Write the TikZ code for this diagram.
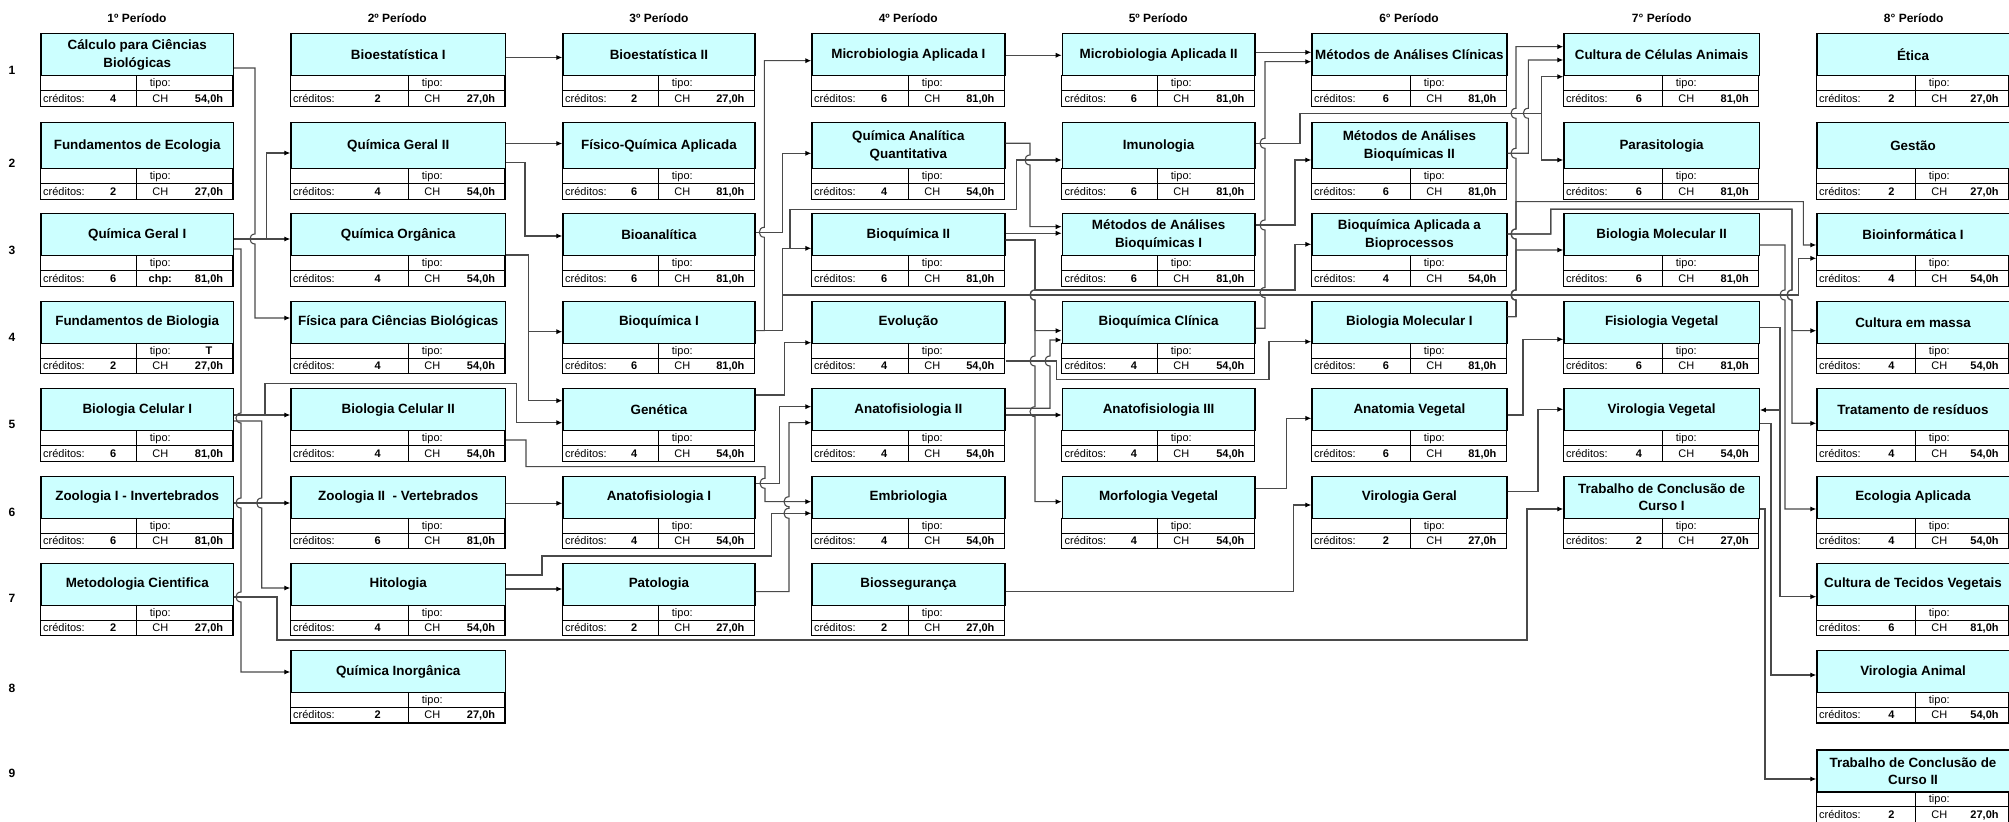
\documentclass[tikz,border=0pt]{standalone}
\usepackage{fontspec}
\setmainfont{Liberation Sans}
\usetikzlibrary{arrows.meta}
\definecolor{cyanbg}{HTML}{CCFFFF}
\definecolor{lgray}{HTML}{4A4A4A}
\newcommand\ttlfont{\bfseries\fontsize{6.7}{8.6}\selectfont}
\newcommand\smfont{\fontsize{5.5}{6}\selectfont}
\newcommand\smbold{\bfseries\fontsize{5.5}{6}\selectfont}
\newcommand\hdrfont{\bfseries\fontsize{6}{7}\selectfont}
\newcommand\setcol[1]{\ifcase#1\relax\or
 \def\cL{40.3}\def\cD{136.3}\def\cR{233}\def\cV{113.3}\or
 \def\cL{290.3}\def\cD{408.3}\def\cR{505}\def\cV{377.7}\or
 \def\cL{562.3}\def\cD{658.3}\def\cR{754.3}\def\cV{634.3}\or
 \def\cL{811.3}\def\cD{908.3}\def\cR{1004.3}\def\cV{884.3}\or
 \def\cL{1061.7}\def\cD{1157.3}\def\cR{1254.3}\def\cV{1134}\or
 \def\cL{1311.3}\def\cD{1410.3}\def\cR{1506.3}\def\cV{1386}\or
 \def\cL{1563.3}\def\cD{1662.3}\def\cR{1758.7}\def\cV{1639}\or
 \def\cL{1816.3}\def\cD{1915.3}\def\cR{2008.5}\def\cV{1891.3}\fi}
% #1 name #2 col #3 top #4 title height #5 title #6 credits #7 hours #8 CH label #9 tipo value
\newcommand\course[9]{%
 \setcol{#2}%
 \pgfmathsetmacro\cW{(\cR-\cL)*0.5}%
 \pgfmathsetmacro\cH{#4*0.5}%
 \pgfmathsetmacro\cA{#3+#4}%
 \pgfmathsetmacro\cB{\cA+15.5}%
 \pgfmathsetmacro\cC{\cB+15.5}%
 \node[tbox, minimum width=\cW pt, minimum height=\cH pt, anchor=north west] (#1) at (\cL,#3) {#5};
 \draw[iline] (\cL,\cB) -- (\cR,\cB) (\cD,\cA) -- (\cD,\cC);
 \draw[tline] (\cL,\cA) -- (\cL,\cC) -- (\cR,\cC) -- (\cR,\cA);
 \node[sm] (#1t) at (\cD+24,\cA+11.5) {tipo:};
 \node[sm,font=\smbold] (#1x) at (\cR-24,\cA+11.5) {#9};
 \node[sm,anchor=base west] (#1c) at (\cL+2.5,\cB+11.5) {créditos:};
 \node[sm,font=\smbold] (#1v) at (\cV,\cB+11.5) {#6};
 \node[sm] (#1k) at (\cD+24,\cB+11.5) {#8};
 \node[sm,font=\smbold,anchor=base east] (#1h) at (\cR-9.5,\cB+11.5) {#7};
}
\tikzset{
 tbox/.style={draw=black, line width=0.6pt, fill=cyanbg, inner sep=0pt, align=center, font=\ttlfont},
 tline/.style={draw=black, line width=0.6pt},
 iline/.style={draw=black, line width=0.5pt},
 sm/.style={inner sep=0pt, anchor=base, font=\smfont},
 hdr/.style={inner sep=0pt, font=\hdrfont},
 conn/.style={draw=lgray, line width=0.55pt, -{Latex[length=3pt,width=2.6pt,color=black]}},
 hopd/.style 2 args={insert path={-- (#1,#2-5) .. controls (#1-6.7,#2-5) and (#1-6.7,#2+5) .. (#1,#2+5)}},
 hopu/.style 2 args={insert path={-- (#1,#2+5) .. controls (#1-6.7,#2+5) and (#1-6.7,#2-5) .. (#1,#2-5)}},
}
\begin{document}
\begin{tikzpicture}[x=0.5pt,y=-0.5pt]
\useasboundingbox (0,0) rectangle (2009,822);
% headers
\node[hdr] (h1) at (137,18.3) {1º Período};
\node[hdr] (h2) at (397.3,18.3) {2º Período};
\node[hdr] (h3) at (659,18.3) {3º Período};
\node[hdr] (h4) at (908.3,18.3) {4º Período};
\node[hdr] (h5) at (1158.3,18.3) {5º Período};
\node[hdr] (h6) at (1409,18.3) {6° Período};
\node[hdr] (h7) at (1661.7,18.3) {7° Período};
\node[hdr] (h8) at (1913.7,18.3) {8° Período};
% row numbers
\node[hdr] (r1) at (12,70) {1};
\node[hdr] (r2) at (12,163) {2};
\node[hdr] (r3) at (12,250) {3};
\node[hdr] (r4) at (12,337) {4};
\node[hdr] (r5) at (12,424) {5};
\node[hdr] (r6) at (12,512) {6};
\node[hdr] (r7) at (12,598) {7};
\node[hdr] (r8) at (12,688) {8};
\node[hdr] (r9) at (12,773) {9};
% column 1
\course{n11}{1}{33.3}{42}{Cálculo para Ciências\\Biológicas}{4}{54,0h}{CH}{}
\course{n12}{1}{122.3}{46}{Fundamentos de Ecologia}{2}{27,0h}{CH}{}
\course{n13}{1}{213.3}{42}{Química Geral I}{6}{81,0h}{\textbf{chp:}}{}
\course{n14}{1}{300.7}{42}{Fundamentos de Biologia}{2}{27,0h}{CH}{T}
\course{n15}{1}{388.3}{42}{Biologia Celular I}{6}{81,0h}{CH}{}
\course{n16}{1}{475.7}{42}{Zoologia I - Invertebrados}{6}{81,0h}{CH}{}
\course{n17}{1}{562.7}{42}{Metodologia Cientifica}{2}{27,0h}{CH}{}
% column 2
\course{n21}{2}{33.3}{42}{Bioestatística I}{2}{27,0h}{CH}{}
\course{n22}{2}{122.3}{46}{Química Geral II}{4}{54,0h}{CH}{}
\course{n23}{2}{213.3}{42}{Química Orgânica}{4}{54,0h}{CH}{}
\course{n24}{2}{300.7}{42}{Física para Ciências Biológicas}{4}{54,0h}{CH}{}
\course{n25}{2}{388.3}{42}{Biologia Celular II}{4}{54,0h}{CH}{}
\course{n26}{2}{475.7}{42}{Zoologia II~ - Vertebrados}{6}{81,0h}{CH}{}
\course{n27}{2}{562.7}{42}{Hitologia}{4}{54,0h}{CH}{}
\course{n28}{2}{650}{42}{Química Inorgânica}{2}{27,0h}{CH}{}
% column 3
\course{n31}{3}{33.3}{42}{Bioestatística II}{2}{27,0h}{CH}{}
\course{n32}{3}{122.3}{46}{Físico-Química Aplicada}{6}{81,0h}{CH}{}
\course{n33}{3}{213.3}{42}{Bioanalítica}{6}{81,0h}{CH}{}
\course{n34}{3}{300.7}{42}{Bioquímica I}{6}{81,0h}{CH}{}
\course{n35}{3}{388.3}{42}{Genética}{4}{54,0h}{CH}{}
\course{n36}{3}{475.7}{42}{Anatofisiologia I}{4}{54,0h}{CH}{}
\course{n37}{3}{562.7}{42}{Patologia}{2}{27,0h}{CH}{}
% column 4
\course{n41}{4}{33.3}{42}{Microbiologia Aplicada I}{6}{81,0h}{CH}{}
\course{n42}{4}{122.3}{46}{Química Analítica\\Quantitativa}{4}{54,0h}{CH}{}
\course{n43}{4}{213.3}{42}{Bioquímica II}{6}{81,0h}{CH}{}
\course{n44}{4}{300.7}{42}{Evolução}{4}{54,0h}{CH}{}
\course{n45}{4}{388.3}{42}{Anatofisiologia II}{4}{54,0h}{CH}{}
\course{n46}{4}{475.7}{42}{Embriologia}{4}{54,0h}{CH}{}
\course{n47}{4}{562.7}{42}{Biossegurança}{2}{27,0h}{CH}{}
% column 5
\course{n51}{5}{33.3}{42}{Microbiologia Aplicada II}{6}{81,0h}{CH}{}
\course{n52}{5}{122.3}{46}{Imunologia}{6}{81,0h}{CH}{}
\course{n53}{5}{213.3}{42}{Métodos de Análises\\Bioquímicas I}{6}{81,0h}{CH}{}
\course{n54}{5}{300.7}{42}{Bioquímica Clínica}{4}{54,0h}{CH}{}
\course{n55}{5}{388.3}{42}{Anatofisiologia III}{4}{54,0h}{CH}{}
\course{n56}{5}{475.7}{42}{Morfologia Vegetal}{4}{54,0h}{CH}{}
% column 6
\course{n61}{6}{33.3}{42}{Métodos de Análises Clínicas}{6}{81,0h}{CH}{}
\course{n62}{6}{122.3}{46}{Métodos de Análises\\Bioquímicas II}{6}{81,0h}{CH}{}
\course{n63}{6}{213.3}{42}{Bioquímica Aplicada a\\Bioprocessos}{4}{54,0h}{CH}{}
\course{n64}{6}{300.7}{42}{Biologia Molecular I}{6}{81,0h}{CH}{}
\course{n65}{6}{388.3}{42}{Anatomia Vegetal}{6}{81,0h}{CH}{}
\course{n66}{6}{475.7}{42}{Virologia Geral}{2}{27,0h}{CH}{}
% column 7
\course{n71}{7}{33.3}{42}{Cultura de Células Animais}{6}{81,0h}{CH}{}
\course{n72}{7}{122.3}{46}{Parasitologia}{6}{81,0h}{CH}{}
\course{n73}{7}{213.3}{42}{Biologia Molecular II}{6}{81,0h}{CH}{}
\course{n74}{7}{300.7}{42}{Fisiologia Vegetal}{6}{81,0h}{CH}{}
\course{n75}{7}{388.3}{42}{Virologia Vegetal}{4}{54,0h}{CH}{}
\course{n76}{7}{475.7}{42}{Trabalho de Conclusão de\\Curso I}{2}{27,0h}{CH}{}
% column 8
\course{n81}{8}{33.3}{42}{Ética}{2}{27,0h}{CH}{}
\course{n82}{8}{122.3}{46}{Gestão}{2}{27,0h}{CH}{}
\course{n83}{8}{213.3}{42}{Bioinformática I}{4}{54,0h}{CH}{}
\course{n84}{8}{300.7}{42}{Cultura em massa}{4}{54,0h}{CH}{}
\course{n85}{8}{388.3}{42}{Tratamento de resíduos}{4}{54,0h}{CH}{}
\course{n86}{8}{475.7}{42}{Ecologia Aplicada}{4}{54,0h}{CH}{}
\course{n87}{8}{562.7}{42}{Cultura de Tecidos Vegetais}{6}{81,0h}{CH}{}
\course{n88}{8}{650}{42}{Virologia Animal}{4}{54,0h}{CH}{}
\course{n89}{8}{749.5}{42}{Trabalho de Conclusão de\\Curso II}{2}{27,0h}{CH}{}
% connectors: col1 -> col2
\draw[conn] (n11.east|-0,68) -- (255,68) [hopd={255}{239}] -- (255,318) -- (n24.west|-0,318);
\draw[conn] (n13.east|-0,239) -- (266.7,239) -- (266.7,153) -- (n22.west|-0,153);
\draw[conn] (n13.east|-0,239) -- (n23.west|-0,239);
\draw[conn] (n13.east|-0,249) -- (241,249) [hopd={241}{418}] [hopd={241}{503}] [hopd={241}{597}] -- (241,672) -- (n28.west|-0,672);
\draw[conn] (n15.east|-0,415) -- (n25.west|-0,415);
\draw[conn] (n15.east|-0,415) -- (265,415) -- (265,383.3) -- (516.7,383.3) -- (516.7,422.7) -- (n35.west|-0,422.7);
\draw[conn] (n15.east|-0,421) -- (261.7,421) [hopd={261.7}{503}] -- (261.7,588) -- (n27.west|-0,588);
\draw[conn] (n16.east|-0,503) -- (n26.west|-0,503);
\draw[conn] (n17.east|-0,597) -- (277,597) -- (277,640) -- (1527,640) -- (1527,509) -- (n76.west|-0,509);
% col2 -> col3
\draw[conn] (n21.east|-0,57.5) -- (n31.west|-0,57.5);
\draw[conn] (n22.east|-0,143.5) -- (n32.west|-0,143.5);
\draw[conn] (n22.east|-0,162.7) -- (525,162.7) -- (525,236) -- (n33.west|-0,236);
\draw[conn] (n23.east|-0,255) -- (528.3,255) -- (528.3,331.7) -- (n34.west|-0,331.7);
\draw[conn] (n23.east|-0,255) -- (528.3,255) -- (528.3,400.7) -- (n35.west|-0,400.7);
\draw[conn] (n25.east|-0,440) -- (526,440) -- (526,466.7) -- (765,466.7) [hopd={765}{483.3}] -- (765,501.7) -- (n46.west|-0,501.7);
\draw[conn] (n26.east|-0,503.3) -- (n36.west|-0,503.3);
\draw[conn] (n27.east|-0,589) -- (n37.west|-0,589);
\draw[conn] (n27.east|-0,575) -- (542,575) -- (542,556) -- (771.7,556) -- (771.7,513.3) -- (n46.west|-0,513.3);
% col3 -> col4
\draw[conn] (n37.east|-0,591.7) -- (789,591.7) [hopu={789}{513.3}] [hopu={789}{501.7}] -- (789,422.7) -- (n45.west|-0,422.7);
\draw[conn] (n36.east|-0,483.3) -- (779.3,483.3) -- (779.3,406.7) -- (n45.west|-0,406.7);
\draw[conn] (n35.east|-0,395) -- (784.3,395) -- (784.3,342.7) -- (n44.west|-0,342.7);
\draw[conn] (n34.east|-0,330.7) -- (764.3,330.7) [hopu={764.3}{232.3}] -- (764.3,60.7) -- (n41.west|-0,60.7);
\draw[conn] (n33.east|-0,232.3) -- (782.7,232.3) -- (782.7,153.3) -- (n42.west|-0,153.3);
\draw[conn] (n34.east|-0,330.7) -- (782.7,330.7) -- (782.7,248.3) -- (n43.west|-0,248.3);
\draw[conn] (n34.east|-0,330.7) -- (782.7,330.7) -- (782.7,248.3) -- (790,248.3) -- (790,209.3) -- (1016.7,209.3) -- (1016.7,160) -- (n52.west|-0,160);
\draw[conn] (n34.east|-0,330.7) -- (782.7,330.7) -- (782.7,295) -- (1798.3,295) -- (1798.3,258.3) -- (n83.west|-0,258.3);
% col4 -> col5
\draw[conn] (n41.east|-0,55.3) -- (n51.west|-0,55.3);
\draw[conn] (n42.east|-0,143.3) -- (1030,143.3) [hopd={1030}{160}] -- (1030,226.7) -- (n53.west|-0,226.7);
\draw[conn] (n43.east|-0,233.3) -- (n53.west|-0,233.3);
\draw[conn] (n43.east|-0,240) -- (1035,240) -- (1035,290) -- (1295,290) -- (1295,244.3) -- (n63.west|-0,244.3);
\draw[conn] (n43.east|-0,240) -- (1035,240) -- (1035,290) [hopd={1035}{295}] -- (1035,330.7) -- (n54.west|-0,330.7);
\draw[conn] (n43.east|-0,240) -- (1035,240) -- (1035,290) [hopd={1035}{295}] [hopd={1035}{361}] [hopd={1035}{411.7}] -- (1035,501.7) -- (n56.west|-0,501.7);
\draw[conn] (n44.east|-0,361) -- (1056.7,361) -- (1056.7,379.3) -- (1269,379.3) -- (1269,341.7) -- (n64.west|-0,341.7);
\draw[conn] (n45.east|-0,408.3) -- (1050,408.3) [hopu={1050}{361}] -- (1050,340) -- (n54.west|-0,340);
\draw[conn] (n45.east|-0,415) -- (n55.west|-0,415);
\draw[conn] (n47.east|-0,591.7) -- (1293.8,591.7) -- (1293.8,505) -- (n66.west|-0,505);
% col5 -> col6
\draw[conn] (n51.east|-0,52.3) -- (n61.west|-0,52.3);
\draw[conn] (n54.east|-0,328.3) -- (1265,328.3) [hopu={1265}{292.5}] [hopu={1265}{225}] [hopu={1265}{143.3}] -- (1265,61.7) -- (n61.west|-0,61.7);
\draw[conn] (n53.east|-0,225) -- (1295,225) -- (1295,160) -- (n62.west|-0,160);
\draw[conn] (n56.east|-0,488.3) -- (1286.7,488.3) -- (1286.7,418.3) -- (n65.west|-0,418.3);
% col5/6 -> col7
\draw[conn] (n52.east|-0,143.3) -- (1300,143.3) -- (1300,113.3) -- (1541.7,113.3) -- (1541.7,76.7) -- (n71.west|-0,76.7);
\draw[conn] (n52.east|-0,143.3) -- (1300,143.3) -- (1300,113.3) -- (1541.7,113.3) -- (1541.7,160) -- (n72.west|-0,160);
\draw[conn] (n62.east|-0,153.3) -- (1528.3,153.3) [hopu={1528.3}{113.3}] -- (1528.3,60) -- (n71.west|-0,60);
\draw[conn] (n64.east|-0,316.7) -- (1516,316.7) [hopu={1516}{295}] [hopu={1516}{234}] [hopu={1516}{153.3}] [hopu={1516}{113.3}] -- (1516,46.7) -- (n71.west|-0,46.7);
\draw[conn] (n64.east|-0,316.7) -- (1516,316.7) [hopu={1516}{295}] -- (1516,250) -- (n73.west|-0,250);
\draw[conn] (n64.east|-0,316.7) -- (1516,316.7) [hopu={1516}{295}] [hopu={1516}{234}] -- (1516,201.7) -- (1803.3,201.7) -- (1803.3,245) -- (n83.west|-0,245);
\draw[conn] (n65.east|-0,415) -- (1523,415) -- (1523,339.3) -- (n74.west|-0,339.3);
\draw[conn] (n66.east|-0,491.7) -- (1538,491.7) -- (1538,409.3) -- (n75.west|-0,409.3);
% col6/7 -> col8
\draw[conn] (n63.east|-0,234) -- (1550.7,234) -- (1550.7,209.3) -- (1792,209.3) [hopd={1792}{295}] -- (1792,330.7) -- (n84.west|-0,330.7);
\draw[conn] (n63.east|-0,234) -- (1550.7,234) -- (1550.7,209.3) -- (1792,209.3) [hopd={1792}{295}] -- (1792,423.3) -- (n85.west|-0,423.3);
\draw[conn] (n73.east|-0,245) -- (1785,245) [hopd={1785}{295}] -- (1785,509) -- (n86.west|-0,509);
\draw[conn] (n74.east|-0,327.7) -- (1780,327.7) -- (1780,410) -- (n75.east|-0,410);
\draw[conn] (n74.east|-0,327.7) -- (1780,327.7) -- (1780,596.7) -- (n87.west|-0,596.7);
\draw[conn] (n75.east|-0,423.3) -- (1771,423.3) -- (1771,675) -- (n88.west|-0,675);
\draw[conn] (n76.east|-0,509) -- (1765,509) -- (1765,779) -- (n89.west|-0,779);
\end{tikzpicture}
\end{document}
